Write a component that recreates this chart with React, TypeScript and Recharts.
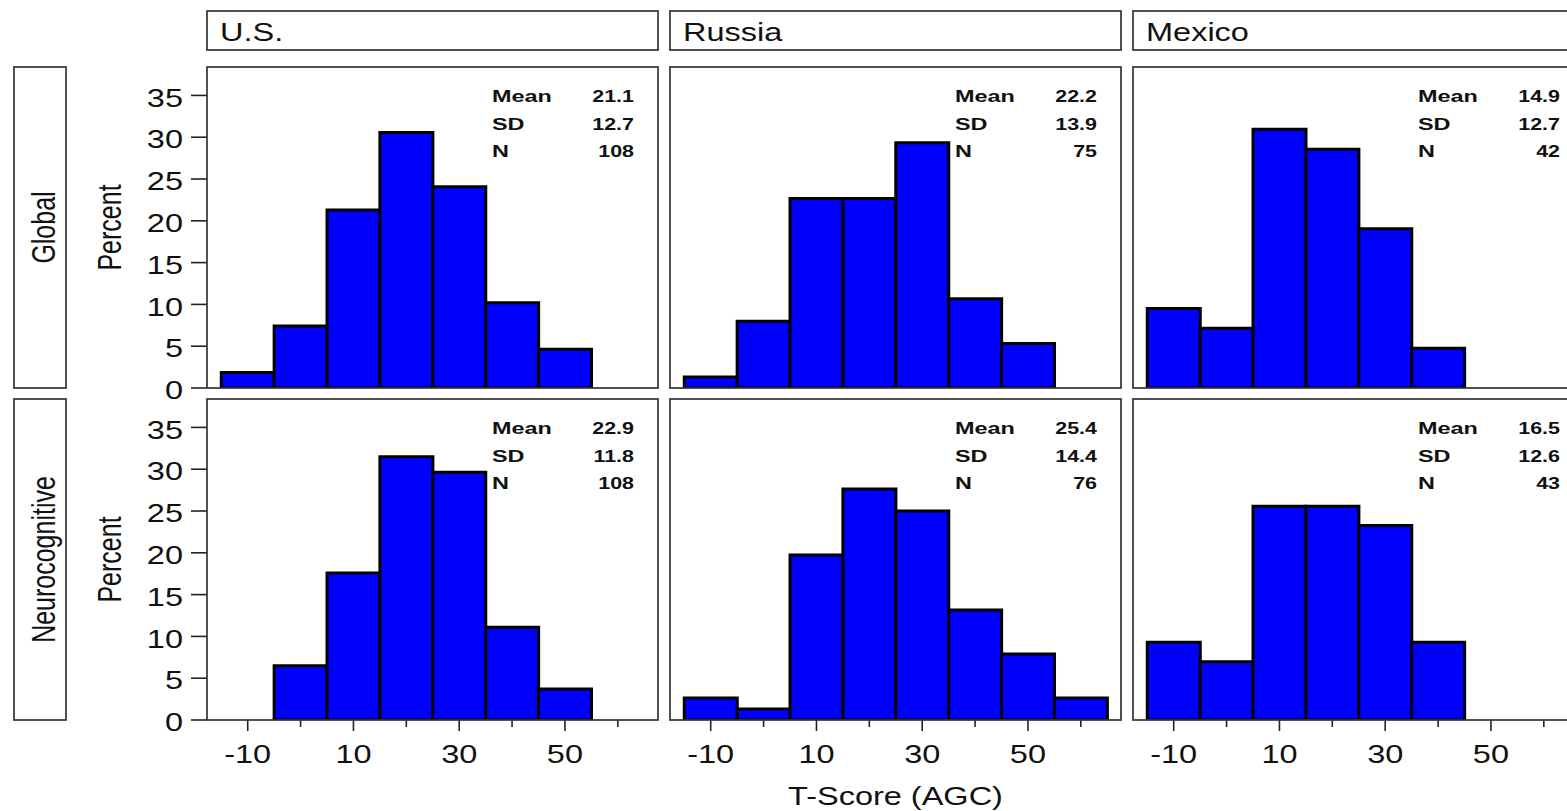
import React from 'react';
import { BarChart, Bar, XAxis, YAxis } from 'recharts';

// ---------- data ----------
const countries = ['U.S.', 'Russia', 'Mexico'];
const rowLabels = ['Global', 'Neurocognitive'];
const binCenters = [-10, 0, 10, 20, 30, 40, 50, 60];

const usGlobal = [1.85, 7.41, 21.3, 30.56, 24.07, 10.19, 4.63, 0];
const russiaGlobal = [1.33, 8.0, 22.67, 22.67, 29.33, 10.67, 5.33, 0];
const mexicoGlobal = [9.52, 7.14, 30.95, 28.57, 19.05, 4.76, 0, 0];
const usNeuro = [0, 6.48, 17.59, 31.48, 29.63, 11.11, 3.7, 0];
const russiaNeuro = [2.63, 1.32, 19.74, 27.63, 25.0, 13.16, 7.89, 2.63];
const mexicoNeuro = [9.3, 6.98, 25.58, 25.58, 23.26, 9.3, 0, 0];

const statLabels = ['Mean', 'SD', 'N'];
const usGlobalStats = ['21.1', '12.7', '108'];
const russiaGlobalStats = ['22.2', '13.9', '75'];
const mexicoGlobalStats = ['14.9', '12.7', '42'];
const usNeuroStats = ['22.9', '11.8', '108'];
const russiaNeuroStats = ['25.4', '14.4', '76'];
const mexicoNeuroStats = ['16.5', '12.6', '43'];

const xTicks = [-10, 0, 10, 20, 30, 40, 50, 60];
const xLabelTicks = [-10, 10, 30, 50];
const yTicks = [0, 5, 10, 15, 20, 25, 30, 35];
const xDomain = [-17.7, 67.6];
const yDomain = [0, 38.4];
const yLabel = 'Percent';
const xLabel = 'T-Score (AGC)';

const panelValues = [
  [usGlobal, russiaGlobal, mexicoGlobal],
  [usNeuro, russiaNeuro, mexicoNeuro],
];
const panelStats = [
  [usGlobalStats, russiaGlobalStats, mexicoGlobalStats],
  [usNeuroStats, russiaNeuroStats, mexicoNeuroStats],
];

// ---------- layout ----------
const COL_LEFT = [207, 670, 1133];
const ROW_TOP = [67, 399];
const FW = 451;
const FH = 321;
const YW = 70;
const XH = 70;
const PAD_BOTTOM = 22;
const FONT = "'Liberation Sans', Arial, Helvetica, sans-serif";
const SX = 1.3;
const SXS = 1.42;
const INK = '#111';
const FRAME = '#333';

const XTick = (props: any) => {
  const { x, y, payload } = props;
  const major = xLabelTicks.includes(payload.value);
  return (
    <g>
      <line x1={x} x2={x} y1={y} y2={y + (major ? 11 : 7)} stroke="#222" strokeWidth={1.6} />
      {major && (
        <text
          transform={`translate(${x},${y + 43}) scale(${SX},1)`}
          textAnchor="middle"
          fontFamily={FONT}
          fontSize={25}
          fill={INK}
        >
          {payload.value}
        </text>
      )}
    </g>
  );
};

const YTick = (props: any) => {
  const { x, y, payload } = props;
  return (
    <g>
      <line x1={x - 16} x2={x} y1={y} y2={y} stroke="#222" strokeWidth={1.6} />
      <text
        transform={`translate(${x - 24},${y}) scale(${SX},1)`}
        textAnchor="end"
        dy="0.45em"
        fontFamily={FONT}
        fontSize={25}
        fill={INK}
      >
        {payload.value}
      </text>
    </g>
  );
};

function Panel({ row, col }: { row: number; col: number }) {
  const values = panelValues[row][col];
  const data = binCenters
    .map((x, i) => ({ x, pct: values[i] }))
    .filter((d) => d.pct > 0);
  const showY = col === 0;
  const showX = row === 1;
  const left = COL_LEFT[col] - (showY ? YW : 0);
  return (
    <div style={{ position: 'absolute', left, top: ROW_TOP[row] }}>
      <BarChart
        width={FW + (showY ? YW : 0)}
        height={FH + (showX ? XH : PAD_BOTTOM)}
        data={data}
        margin={{ top: 0, right: 0, bottom: showX ? 0 : PAD_BOTTOM, left: 0 }}
        barCategoryGap={0}
        barGap={0}
        style={{ overflow: 'visible' }}
      >
        <XAxis
          type="number"
          dataKey="x"
          domain={xDomain}
          ticks={xTicks}
          allowDataOverflow
          hide={!showX}
          height={XH}
          tickSize={0}
          tickMargin={0}
          axisLine={false}
          tickLine={false}
          interval={0}
          tick={(p: any) => <XTick {...p} />}
        />
        <YAxis
          type="number"
          domain={yDomain}
          ticks={yTicks}
          allowDataOverflow
          hide={!showY}
          width={YW}
          tickSize={0}
          tickMargin={0}
          axisLine={false}
          tickLine={false}
          interval={0}
          tick={(p: any) => <YTick {...p} />}
        />
        <Bar dataKey="pct" fill="#0000FF" stroke="#000" strokeWidth={3} isAnimationActive={false} />
      </BarChart>
    </div>
  );
}

function Overlay() {
  const els: React.ReactNode[] = [];
  countries.forEach((c, ci) => {
    els.push(
      <rect key={`h${ci}`} x={COL_LEFT[ci]} y={11} width={FW} height={39} fill="none" stroke={FRAME} strokeWidth={1.7} />
    );
    els.push(
      <text
        key={`ht${ci}`}
        transform={`translate(${COL_LEFT[ci] + 13},41) scale(${SX},1)`}
        fontFamily={FONT}
        fontSize={25}
        fill={INK}
      >
        {c}
      </text>
    );
  });
  rowLabels.forEach((r, ri) => {
    const cy = ROW_TOP[ri] + FH / 2;
    els.push(
      <rect key={`r${ri}`} x={14} y={ROW_TOP[ri]} width={52} height={FH} fill="none" stroke={FRAME} strokeWidth={1.7} />
    );
    els.push(
      <text
        key={`rt${ri}`}
        transform={`translate(55,${cy}) scale(${SX},1) rotate(-90)`}
        textAnchor="middle"
        fontFamily={FONT}
        fontSize={25}
        fill={INK}
      >
        {r}
      </text>
    );
    els.push(
      <text
        key={`yl${ri}`}
        transform={`translate(121,${cy}) scale(${SX},1) rotate(-90)`}
        textAnchor="middle"
        fontFamily={FONT}
        fontSize={25}
        fill={INK}
      >
        {yLabel}
      </text>
    );
    countries.forEach((_, ci) => {
      els.push(
        <rect
          key={`f${ri}${ci}`}
          x={COL_LEFT[ci]}
          y={ROW_TOP[ri]}
          width={FW}
          height={FH}
          fill="none"
          stroke={FRAME}
          strokeWidth={1.7}
        />
      );
      const stats = panelStats[ri][ci];
      statLabels.forEach((lab, k) => {
        const by = ROW_TOP[ri] + 35 + k * 27.5;
        els.push(
          <text
            key={`sl${ri}${ci}${k}`}
            transform={`translate(${COL_LEFT[ci] + 285},${by}) scale(${SXS},1)`}
            fontFamily={FONT}
            fontSize={16.5}
            fontWeight="bold"
            fill={INK}
          >
            {lab}
          </text>
        );
        els.push(
          <text
            key={`sv${ri}${ci}${k}`}
            transform={`translate(${COL_LEFT[ci] + 427},${by}) scale(1.3,1)`}
            textAnchor="end"
            fontFamily={FONT}
            fontSize={16.5}
            fontWeight="bold"
            fill={INK}
          >
            {stats[k]}
          </text>
        );
      });
    });
  });
  els.push(
    <text
      key="xt"
      transform={`translate(${COL_LEFT[1] + FW / 2},805) scale(${SX},1)`}
      textAnchor="middle"
      fontFamily={FONT}
      fontSize={25}
      fill={INK}
    >
      {xLabel}
    </text>
  );
  return (
    <svg
      width={1567}
      height={811}
      style={{ position: 'absolute', left: 0, top: 0, pointerEvents: 'none' }}
    >
      {els}
    </svg>
  );
}

export default function App() {
  return (
    <div
      style={{
        position: 'absolute',
        left: 0,
        top: 0,
        width: 1567,
        height: 811,
        overflow: 'hidden',
        background: '#fff',
      }}
    >
      {[0, 1].map((r) => [0, 1, 2].map((c) => <Panel key={`${r}-${c}`} row={r} col={c} />))}
      <Overlay />
    </div>
  );
}
